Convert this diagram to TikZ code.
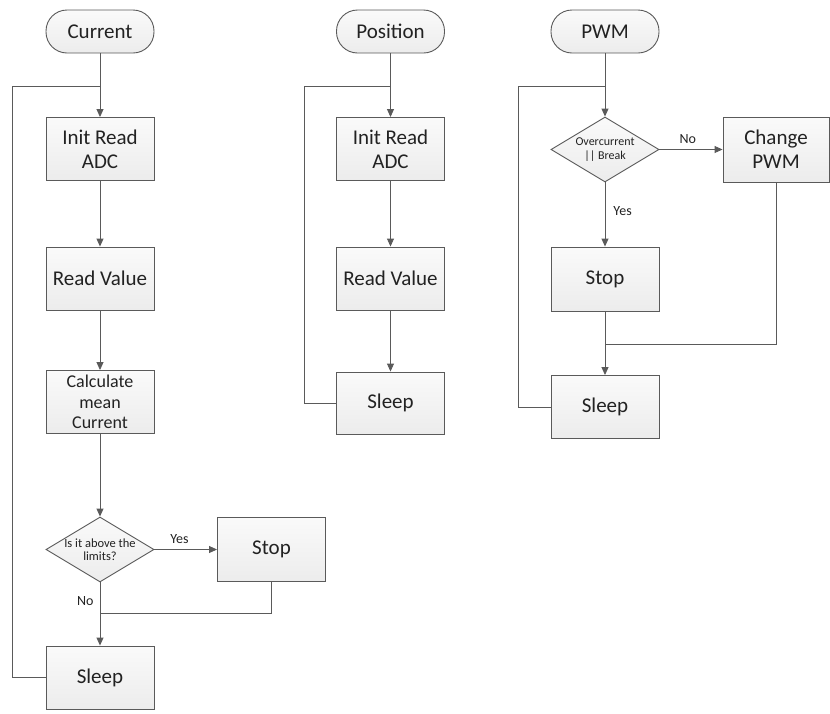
\documentclass[tikz,border=0pt]{standalone}
\usepackage{fontspec}
\setmainfont{Carlito}
\usetikzlibrary{shapes.geometric,arrows.meta}
\definecolor{strk}{HTML}{5A5A5A}
\definecolor{txt}{HTML}{222222}
\definecolor{fillt}{HTML}{FAFAFA}
\definecolor{fillb}{HTML}{ECECEC}
\tikzset{
  every node/.style={text=txt},
  stepbox/.style={draw=strk, line width=0.9pt, top color=fillt, bottom color=fillb,
    minimum width=108pt, minimum height=63pt, inner sep=2pt, align=center,
    font=\fontsize{21}{24}\selectfont},
  term/.style={draw=strk, line width=0.9pt, top color=fillt, bottom color=fillb,
    rounded corners=21pt, minimum width=108pt, minimum height=43pt,
    font=\fontsize{21}{24}\selectfont},
  decide/.style={diamond, draw=strk, line width=0.9pt, top color=fillt, bottom color=fillb,
    minimum width=108pt, minimum height=65pt, inner sep=0pt},
  dtext/.style={font=\fontsize{12.5}{13.5}\selectfont, align=center, inner sep=0pt},
  lbl/.style={font=\fontsize{14}{16}\selectfont, inner sep=0pt},
  flow/.style={draw=strk, line width=0.9pt, -{Triangle[length=8pt,width=7pt]}},
  wire/.style={draw=strk, line width=0.9pt},
}
\begin{document}
\begin{tikzpicture}[x=1pt,y=-1pt]
\useasboundingbox (0,0) rectangle (830,713);
% ---------- Current ----------
\node[term] (cur) at (100,31.5) {Current};
\node[stepbox] (c1) at (100,149) {Init Read\\ADC};
\node[stepbox] (c2) at (100,278.5) {Read Value};
\node[stepbox, font=\fontsize{18}{20.5}\selectfont] (c3) at (100,402) {Calculate\\mean\\Current};
\node[decide, label={[dtext]center:Is it above the\\limits?}] (cd) at (100,549.5) {};
\node[stepbox, minimum height=64pt] (cs) at (271.5,549.5) {Stop};
\node[stepbox] (c4) at (100,677.5) {Sleep};
\coordinate (j1) at (100,86);
\coordinate (l1) at (12,86);
\coordinate (m1) at (100,613);
\draw[flow] (cur) -- (c1);
\draw[flow] (c1) -- (c2);
\draw[flow] (c2) -- (c3);
\draw[flow] (c3) -- (cd);
\draw[flow] (cd) -- node[lbl, above=5pt, pos=0.4] {Yes} (cs);
\draw[flow] (cd) -- node[lbl, left=6pt, pos=0.3] {No} (c4);
\draw[wire] (cs.south) |- (m1);
\draw[wire] (c4.west) -| (l1) -- (j1);
% ---------- Position ----------
\node[term] (pos) at (390.5,31.5) {Position};
\node[stepbox] (p1) at (390.5,149) {Init Read\\ADC};
\node[stepbox] (p2) at (390.5,278.5) {Read Value};
\node[stepbox, minimum height=62pt] (p3) at (390.5,403) {Sleep};
\coordinate (j2) at (390.5,86);
\coordinate (l2) at (304,86);
\draw[flow] (pos) -- (p1);
\draw[flow] (p1) -- (p2);
\draw[flow] (p2) -- (p3);
\draw[wire] (p3.west) -| (l2) -- (j2);
% ---------- PWM ----------
\node[term] (pwm) at (605,31.5) {PWM};
\node[decide, label={[dtext, font=\fontsize{12}{13.5}\selectfont]center:Overcurrent\\|| Break}] (pd) at (605,149.5) {};
\node[stepbox, minimum width=106pt, minimum height=65pt] (pc) at (776,149.5) {Change\\PWM};
\node[stepbox, minimum height=64pt] (ps) at (605,279) {Stop};
\node[stepbox] (p4) at (605,407) {Sleep};
\coordinate (j3) at (605,86);
\coordinate (l3) at (518,86);
\coordinate (m2) at (605,344);
\draw[flow] (pwm) -- (pd);
\draw[flow] (pd) -- node[lbl, above=5pt, pos=0.45] {No} (pc);
\draw[flow] (pd) -- node[lbl, right=8pt, pos=0.45] {Yes} (ps);
\draw[flow] (ps) -- (p4);
\draw[wire] (pc.south) |- (m2);
\draw[wire] (p4.west) -| (l3) -- (j3);
\end{tikzpicture}
\end{document}
